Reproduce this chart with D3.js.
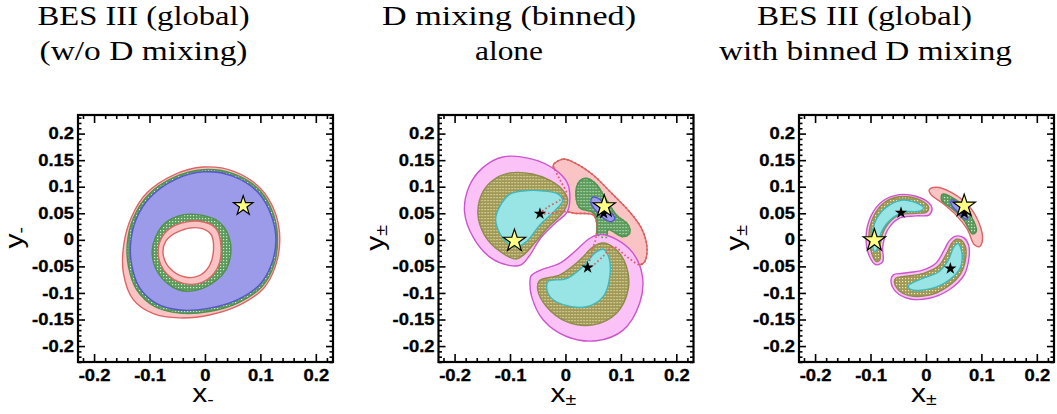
<!DOCTYPE html>
<html>
<head>
<meta charset="utf-8">
<script src="https://cdn.jsdelivr.net/npm/d3@7"></script>
<style>
  body { margin: 0; background: #fff; }
</style>
</head>
<body>
<svg id="chart" width="1057" height="414"></svg>
<script>
//Tick values and labels.
var xMajor = [-0.2, -0.1, 0, 0.1, 0.2];
var yMajor = [-0.2, -0.15, -0.1, -0.05, 0, 0.05, 0.1, 0.15, 0.2];

var panelTitles = [
  ["BES III (global)", "(w/o D mixing)"],
  ["D mixing (binned)", "alone"],
  ["BES III (global)", "with binned D mixing"]
];
var xTitleSub = ["-", "\u00b1", "\u00b1"];

//Panel 1 contours as (x, y) pairs.
var p1RedOuter = [[-0.003,0.137],[0.052,0.129],[0.100,0.097],[0.127,0.050],[0.135,0.000],[0.127,-0.050],[0.106,-0.091],[0.064,-0.122],[0.010,-0.141],[-0.045,-0.147],[-0.093,-0.139],[-0.129,-0.113],[-0.147,-0.063],[-0.146,-0.006],[-0.132,0.044],[-0.105,0.088],[-0.057,0.122]];
var p1GreenOuter = [[-0.003,0.132],[0.052,0.124],[0.099,0.093],[0.124,0.047],[0.131,0.000],[0.124,-0.049],[0.103,-0.088],[0.061,-0.118],[0.007,-0.135],[-0.045,-0.138],[-0.090,-0.126],[-0.123,-0.094],[-0.138,-0.050],[-0.140,-0.006],[-0.129,0.041],[-0.102,0.085],[-0.055,0.118]];
var p1BlueOuter = [[-0.003,0.128],[0.050,0.120],[0.095,0.090],[0.120,0.045],[0.128,0.000],[0.120,-0.046],[0.099,-0.084],[0.058,-0.113],[0.006,-0.129],[-0.045,-0.132],[-0.087,-0.120],[-0.118,-0.090],[-0.132,-0.048],[-0.134,-0.006],[-0.124,0.039],[-0.098,0.081],[-0.053,0.114]];
var p1GreenInner = [[-0.0175,0.048],[0.025,0.034],[0.046,-0.006],[0.038,-0.056],[-0.003,-0.091],[-0.048,-0.094],[-0.084,-0.063],[-0.095,-0.019],[-0.078,0.025],[-0.050,0.044]];
var p1PinkInner = [[-0.010,0.035],[0.019,0.022],[0.029,-0.012],[0.022,-0.054],[-0.005,-0.080],[-0.039,-0.082],[-0.069,-0.064],[-0.084,-0.030],[-0.078,0.004],[-0.054,0.027]];
var p1Hole = [[-0.0085,0.022],[0.011,0.010],[0.0155,-0.017],[0.008,-0.049],[-0.0115,-0.068],[-0.036,-0.070],[-0.061,-0.056],[-0.075,-0.030],[-0.071,-0.003],[-0.045,0.017]];

//Panel 2 contours.
var p2Pink = [[-0.022,0.141],[-0.004,0.152],[0.020,0.143],[0.050,0.122],[0.083,0.088],[0.113,0.056],[0.137,0.022],[0.147,-0.013],[0.143,-0.041],[0.134,-0.047],[0.110,-0.031],[0.086,-0.013],[0.068,-0.031],[0.047,-0.050],[0.040,-0.052],[0.044,-0.038],[0.050,-0.013],[0.055,0.003],[0.056,0.034],[0.050,0.047],[0.017,0.050],[0.002,0.053],[-0.040,0.049],[-0.045,0.050],[-0.034,0.060],[-0.010,0.075],[0.002,0.085],[-0.010,0.113],[-0.019,0.132]];
var p2Green = [[0.032,0.115],[0.023,0.107],[0.019,0.082],[0.026,0.060],[0.047,0.053],[0.056,0.044],[0.059,0.009],[0.074,0.005],[0.077,0.019],[0.104,0.006],[0.116,0.013],[0.113,0.028],[0.092,0.047],[0.074,0.075],[0.056,0.104],[0.041,0.115]];
var p2Blue = [[0.049,0.080],[0.062,0.076],[0.080,0.054],[0.089,0.041],[0.083,0.034],[0.068,0.041],[0.053,0.057],[0.046,0.069]];
var p2MagentaLeft = [[-0.113,0.156],[-0.060,0.152],[-0.020,0.133],[0.003,0.108],[0.008,0.080],[0.003,0.052],[-0.020,0.030],[-0.045,0.003],[-0.065,-0.030],[-0.080,-0.047],[-0.102,-0.048],[-0.137,-0.032],[-0.166,0.004],[-0.182,0.052],[-0.174,0.100],[-0.150,0.135]];
var p2OliveLeft = [[-0.100,0.126],[-0.060,0.124],[-0.028,0.112],[-0.006,0.095],[0.004,0.075],[-0.004,0.052],[-0.030,0.025],[-0.055,-0.005],[-0.075,-0.028],[-0.090,-0.036],[-0.119,-0.021],[-0.146,0.009],[-0.158,0.050],[-0.148,0.092],[-0.127,0.115]];
var p2CyanLeft = [[-0.100,0.086],[-0.076,0.092],[-0.040,0.092],[-0.013,0.086],[-0.005,0.074],[-0.019,0.055],[-0.046,0.028],[-0.070,-0.003],[-0.088,-0.013],[-0.112,0.002],[-0.126,0.038],[-0.115,0.069]];
var p2MagentaBottom = [[-0.062,-0.068],[-0.045,-0.057],[-0.010,-0.044],[0.020,-0.019],[0.044,0.003],[0.063,0.010],[0.092,0.001],[0.122,-0.025],[0.139,-0.069],[0.134,-0.119],[0.104,-0.170],[0.056,-0.190],[0.002,-0.182],[-0.040,-0.151],[-0.061,-0.107],[-0.064,-0.078]];
var p2OliveBottom = [[-0.047,-0.077],[-0.010,-0.066],[0.026,-0.038],[0.050,-0.013],[0.068,-0.006],[0.092,-0.019],[0.110,-0.050],[0.113,-0.094],[0.092,-0.138],[0.050,-0.160],[0.002,-0.154],[-0.034,-0.126],[-0.050,-0.094]];
var p2CyanBottom = [[-0.031,-0.078],[0.002,-0.073],[0.032,-0.050],[0.053,-0.025],[0.068,-0.018],[0.078,-0.032],[0.080,-0.069],[0.068,-0.107],[0.038,-0.126],[-0.004,-0.122],[-0.028,-0.107],[-0.034,-0.088]];

//Panel 3 contours.
var p3Pink = [[0.006,0.094],[0.018,0.099],[0.048,0.088],[0.078,0.063],[0.096,0.031],[0.102,0.000],[0.096,-0.013],[0.087,-0.009],[0.075,0.019],[0.054,0.047],[0.030,0.069],[0.009,0.085]];
var p3Green = [[0.030,0.086],[0.060,0.071],[0.081,0.045],[0.091,0.016],[0.084,0.011],[0.069,0.036],[0.048,0.058],[0.028,0.075]];
var p3Blue = [[0.046,0.075],[0.060,0.067],[0.072,0.050],[0.076,0.040],[0.070,0.040],[0.058,0.052],[0.046,0.066]];
var p3MagentaLeft = [[0.006,0.069],[-0.018,0.082],[-0.048,0.085],[-0.078,0.073],[-0.099,0.045],[-0.108,0.006],[-0.102,-0.031],[-0.090,-0.047],[-0.078,-0.041],[-0.078,-0.013],[-0.069,0.019],[-0.048,0.041],[-0.018,0.045],[0.006,0.047],[0.011,0.060]];
var p3OliveLeft = [[0.003,0.065],[-0.018,0.078],[-0.048,0.081],[-0.075,0.070],[-0.095,0.043],[-0.103,0.006],[-0.097,-0.028],[-0.089,-0.041],[-0.083,-0.037],[-0.083,-0.012],[-0.074,0.021],[-0.050,0.046],[-0.018,0.050],[0.001,0.052],[0.005,0.059]];
var p3CyanLeft = [[-0.010,0.066],[-0.040,0.075],[-0.068,0.064],[-0.089,0.040],[-0.097,0.008],[-0.093,-0.022],[-0.087,-0.016],[-0.081,0.013],[-0.065,0.037],[-0.040,0.052],[-0.012,0.054],[-0.004,0.060]];
var p3MagentaBottom = [[0.054,0.007],[0.068,0.004],[0.077,-0.010],[0.078,-0.031],[0.069,-0.066],[0.042,-0.094],[0.006,-0.110],[-0.030,-0.111],[-0.054,-0.098],[-0.063,-0.079],[-0.059,-0.066],[-0.042,-0.063],[-0.006,-0.057],[0.018,-0.044],[0.033,-0.019],[0.042,-0.002]];
var p3OliveBottom = [[0.055,0.001],[0.064,-0.001],[0.071,-0.012],[0.072,-0.031],[0.063,-0.063],[0.039,-0.088],[0.006,-0.104],[-0.030,-0.105],[-0.050,-0.094],[-0.057,-0.080],[-0.054,-0.072],[-0.040,-0.069],[-0.004,-0.063],[0.023,-0.049],[0.039,-0.022],[0.047,-0.006]];
var p3CyanBottom = [[0.058,-0.007],[0.065,-0.025],[0.062,-0.052],[0.043,-0.075],[0.012,-0.091],[-0.026,-0.094],[-0.032,-0.087],[-0.007,-0.073],[0.022,-0.061],[0.040,-0.039],[0.050,-0.014]];

//Best-fit points (yellow) and reference points (black).
var yellowStars = [[[0.069,0.064]], [[-0.092,-0.002],[0.070,0.063]], [[-0.093,-0.001],[0.069,0.064]]];
var blackStars = [[], [[-0.046,0.049],[0.040,-0.052],[0.069,0.050]], [[-0.045,0.051],[0.044,-0.054],[0.069,0.050]]];

//Fill/stroke styles of the confidence regions.
var styles = {
  pink:    {fill: "#fbc4c4", stroke: "#dc6464"},
  green:   {fill: "url(#dotGreen)", stroke: "#4f8f4f"},
  blue:    {fill: "#9b9be9", stroke: "#5656cc"},
  magenta: {fill: "#fbc2f8", stroke: "#cc55cc"},
  olive:   {fill: "url(#dotOlive)", stroke: "#8f8a4a"},
  cyan:    {fill: "#99e4e4", stroke: "#3fb7bd"},
  hole:    {fill: "#ffffff", stroke: "#dc6464"}
};

//Drawing order for each panel (later layers are painted on top).
var layers = [
  [[p1RedOuter,"pink"],[p1GreenOuter,"green"],[p1BlueOuter,"blue"],[p1GreenInner,"green"],[p1PinkInner,"pink"],[p1Hole,"hole"]],
  [[p2Pink,"pink"],[p2Green,"green"],[p2Blue,"blue"],
   [p2MagentaLeft,"magenta"],[p2OliveLeft,"olive"],[p2CyanLeft,"cyan"],
   [p2MagentaBottom,"magenta"],[p2OliveBottom,"olive"],[p2CyanBottom,"cyan"]],
  [[p3Pink,"pink"],[p3Green,"green"],[p3Blue,"blue"],
   [p3MagentaLeft,"magenta"],[p3OliveLeft,"olive"],[p3CyanLeft,"cyan"],
   [p3MagentaBottom,"magenta"],[p3OliveBottom,"olive"],[p3CyanBottom,"cyan"]]
];
//Region outlines hidden under other regions, redrawn dotted on top.
var dottedOutlines = [[], [[p2Pink,"#e05a5a"],[p2Green,"#4f9f4f"]], []];

var W = 255, H = 247, TOP = 115;
var panelLeft = [78, 438.5, 799];
//Horizontal offset of each title line from the panel centre, and its measured width.
var titleShift = [[-62, -62], [-57, -57], [-62, -61]];
var titleWidth = [[212, 208], [254, 68], [215, 293]];
var LABEL_FONT = "'Liberation Sans', Arial, Helvetica, sans-serif";

var svg = d3.select("#chart");
var defs = svg.append("defs");

//The picture's sans-serif labels are drawn horizontally stretched:
//measure "-0.15" at 16px bold and stretch it to the 42px it has there.
var probe = svg.append("text")
  .style("font-family", LABEL_FONT).style("font-weight", "bold").style("font-size", "16px")
  .text("-0.15");
var SX = 42 / probe.node().getComputedTextLength();
probe.remove();

//Small dotted patterns for the hatched-looking regions.
function dotPattern(id, base, dot) {
  var p = defs.append("pattern").attr("id", id)
    .attr("width", 3).attr("height", 3).attr("patternUnits", "userSpaceOnUse");
  p.append("rect").attr("width", 3).attr("height", 3).attr("fill", base);
  p.append("rect").attr("x", 1).attr("y", 1).attr("width", 1.2).attr("height", 1.2).attr("fill", dot);
}
dotPattern("dotGreen", "#5b9b5b", "#cfe6cf");
dotPattern("dotOlive", "#a09955", "#ebe6bb");

var x = d3.scaleLinear().domain([-0.229, 0.231]).range([0, W]);
var y = d3.scaleLinear().domain([-0.23, 0.235]).range([H, 0]);

var contour = d3.line()
  .x(d => x(d[0]))
  .y(d => y(d[1]))
  .curve(d3.curveCatmullRomClosed.alpha(0.5));

var fmt = d => String(+d.toFixed(2));
var xMinor = d3.range(-22, 23, 2).map(d => d / 100).filter(d => Math.abs(d * 10 - Math.round(d * 10)) > 1e-6);
var yMinor = d3.range(-23, 24, 1).map(d => d / 100).filter(d => Math.abs(d * 20 - Math.round(d * 20)) > 1e-6);

function styleAxis(sel) {
  sel.attr("font-size", 16).attr("font-family", LABEL_FONT).attr("font-weight", "bold");
  sel.selectAll(".domain").remove();
  sel.selectAll(".tick line").attr("stroke", "#000").attr("stroke-width", 1.6);
  sel.selectAll(".tick text")
    .attr("x", function() { return (+this.getAttribute("x") || 0) / SX; })
    .attr("transform", "scale(" + SX + ",1)")
    .style("font-family", LABEL_FONT)
    .style("font-weight", "bold")
    .style("font-size", "16px")
    .attr("stroke", "#000")
    .attr("stroke-width", 0.3)
    .attr("fill", "#000");
}

panelLeft.forEach(function(left, i) {
  var g = svg.append("g").attr("transform", "translate(" + left + "," + TOP + ")");

  defs.append("clipPath").attr("id", "clip" + i)
    .append("rect").attr("width", W).attr("height", H);

  var plot = g.append("g").attr("clip-path", "url(#clip" + i + ")");

  layers[i].forEach(function(layer) {
    var st = styles[layer[1]];
    plot.append("path")
      .attr("d", contour(layer[0]))
      .attr("fill", st.fill)
      .attr("stroke", st.stroke)
      .attr("stroke-width", 1.4);
  });

  dottedOutlines[i].forEach(function(o) {
    plot.append("path")
      .attr("d", contour(o[0]))
      .attr("fill", "none")
      .attr("stroke", o[1])
      .attr("stroke-width", 1.7)
      .attr("stroke-dasharray", "1.6,2.4");
  });

  plot.selectAll(".bstar").data(blackStars[i]).enter().append("path")
    .attr("transform", d => "translate(" + x(d[0]) + "," + y(d[1]) + ")")
    .attr("d", d3.symbol().type(d3.symbolStar).size(48))
    .attr("fill", "#000");

  plot.selectAll(".ystar").data(yellowStars[i]).enter().append("path")
    .attr("transform", d => "translate(" + x(d[0]) + "," + y(d[1]) + ")")
    .attr("d", d3.symbol().type(d3.symbolStar).size(i == 0 ? 118 : 155))
    .attr("fill", "#ffff80")
    .attr("stroke", "#000")
    .attr("stroke-width", 1.2);

  //Inward ticks on all four sides, labels only at bottom and left.
  g.append("g").attr("transform", "translate(0," + H + ")")
    .call(d3.axisBottom(x).tickValues(xMinor).tickSize(-4).tickFormat("")).call(styleAxis);
  g.append("g").attr("transform", "translate(0," + H + ")")
    .call(d3.axisBottom(x).tickValues(xMajor).tickSize(-8).tickPadding(8).tickFormat(fmt)).call(styleAxis);
  g.append("g").call(d3.axisTop(x).tickValues(xMinor).tickSize(-4).tickFormat("")).call(styleAxis);
  g.append("g").call(d3.axisTop(x).tickValues(xMajor).tickSize(-8).tickFormat("")).call(styleAxis);
  g.append("g").call(d3.axisLeft(y).tickValues(yMinor).tickSize(-3.5).tickFormat("")).call(styleAxis);
  g.append("g").call(d3.axisLeft(y).tickValues(yMajor).tickSize(-7).tickPadding(4).tickFormat(fmt)).call(styleAxis);
  g.append("g").attr("transform", "translate(" + W + ",0)")
    .call(d3.axisRight(y).tickValues(yMinor).tickSize(-3.5).tickFormat("")).call(styleAxis);
  g.append("g").attr("transform", "translate(" + W + ",0)")
    .call(d3.axisRight(y).tickValues(yMajor).tickSize(-7).tickFormat("")).call(styleAxis);

  g.append("rect").attr("width", W).attr("height", H)
    .attr("fill", "none").attr("stroke", "#000").attr("stroke-width", 2.2);

  //Axis titles.
  var xt = g.append("text")
    .attr("transform", "translate(" + (x(0) - 2) + "," + (H + 40) + ") scale(" + SX + ",1)")
    .attr("text-anchor", "middle")
    .attr("font-family", LABEL_FONT)
    .attr("font-size", 26);
  xt.append("tspan").text("x");
  xt.append("tspan").attr("font-size", 17).attr("dy", 3).text(xTitleSub[i]);

  var yt = g.append("text")
    .attr("transform", "translate(-55," + (y(0) - 2) + ") rotate(-90) scale(" + SX + ",1)")
    .attr("text-anchor", "middle")
    .attr("font-family", LABEL_FONT)
    .attr("font-size", 26);
  yt.append("tspan").text("y");
  yt.append("tspan").attr("font-size", 17).attr("dy", 3).text(xTitleSub[i]);

  //Two-line serif title above each panel.
  panelTitles[i].forEach(function(line, j) {
    g.append("text")
      .attr("x", W / 2 + titleShift[i][j]).attr("y", (j == 0 ? 25 : 60) - TOP)
      .attr("text-anchor", "middle")
      .attr("font-family", "Liberation Serif, Times New Roman, serif")
      .attr("font-size", 28)
      .attr("textLength", titleWidth[i][j])
      .attr("lengthAdjust", "spacingAndGlyphs")
      .text(line);
  });
});
</script>
</body>
</html>
